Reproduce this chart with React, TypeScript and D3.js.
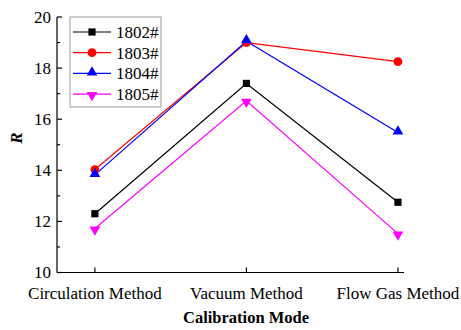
import React from 'react';
import * as d3 from 'd3';

const categories = ['Circulation Method', 'Vacuum Method', 'Flow Gas Method'];
const seriesNames = ['1802#', '1803#', '1804#', '1805#'];
const values1802 = [12.3, 17.4, 12.75];
const values1803 = [14.03, 19.0, 18.25];
const values1804 = [13.82, 19.05, 15.48];
const values1805 = [11.72, 16.72, 11.52];
const yTicks = [10, 12, 14, 16, 18, 20];
const yMinorTicks = [11, 13, 15, 17, 19];

const colors = ['#000000', '#ff0000', '#0000ff', '#ff00ff'];
const shapes = [d3.symbolSquare, d3.symbolCircle, d3.symbolTriangle, d3.symbolTriangle];
const serif = { fontFamily: "'Liberation Serif', 'Times New Roman', Times, serif" };

const App = () => {
  const width = 461;
  const height = 330;
  const left = 57;
  const right = 404;
  const top = 17;
  const bottom = 272.5;

  const allValues = [values1802, values1803, values1804, values1805];

  // categories sit at index 1..3
  const x = d3.scaleLinear().domain([0.75, 3.04]).range([left, right]);
  const y = d3.scaleLinear().domain([10, 20]).range([bottom, top]);

  const line = d3.line<number>()
    .x((d, i) => x(i + 1))
    .y(d => y(d));

  const marker = (idx: number, cx: number, cy: number, key: string) => {
    const size = idx === 0 ? 52 : idx === 1 ? 60 : 50;
    const path = d3.symbol().type(shapes[idx]).size(size)() || '';
    const rot = idx === 3 ? 180 : 0;
    const dy = idx === 2 ? -1 : idx === 3 ? 1 : 0;
    return (
      <path
        key={key}
        d={path}
        fill={colors[idx]}
        transform={`translate(${cx},${cy + dy}) rotate(${rot})`}
      />
    );
  };

  return (
    <svg width={width} height={height} style={{ position: 'absolute', left: 0, top: 0, background: '#fff' }}>
      {/* series lines */}
      {allValues.map((vals, si) => (
        <path key={'l' + si} d={line(vals) || ''} fill="none" stroke={colors[si]} strokeWidth={1.2} />
      ))}
      {allValues.map((vals, si) =>
        vals.map((v, i) => marker(si, x(i + 1), y(v), `m${si}-${i}`))
      )}

      {/* axes */}
      <line x1={left} y1={top} x2={left} y2={bottom} stroke="#000" strokeWidth={1.2} />
      <line x1={left} y1={bottom} x2={right} y2={bottom} stroke="#000" strokeWidth={1.2} />
      {yTicks.map(t => (
        <g key={'yt' + t}>
          <line x1={left} x2={left + 5} y1={y(t)} y2={y(t)} stroke="#000" strokeWidth={1.2} />
          <text x={left - 6} y={y(t)} dy="0.35em" textAnchor="end" style={serif} fontSize={17}>
            {t}
          </text>
        </g>
      ))}
      {yMinorTicks.map(t => (
        <line key={'ym' + t} x1={left} x2={left + 3} y1={y(t)} y2={y(t)} stroke="#000" strokeWidth={1.2} />
      ))}
      {categories.map((c, i) => (
        <g key={'xt' + i}>
          <line x1={x(i + 1)} x2={x(i + 1)} y1={bottom} y2={bottom - 5} stroke="#000" strokeWidth={1.2} />
          <text x={x(i + 1)} y={bottom + 21} dy="0.35em" textAnchor="middle" style={serif} fontSize={17}>
            {c}
          </text>
        </g>
      ))}

      {/* axis titles */}
      <text
        transform={`translate(16,138) rotate(-90)`}
        textAnchor="middle"
        dy="0.35em"
        style={serif}
        fontSize={17}
        fontWeight="bold"
        fontStyle="italic"
      >
        R
      </text>
      <text x={246} y={323} textAnchor="middle" style={serif} fontSize={16.5} fontWeight="bold">
        Calibration Mode
      </text>

      {/* legend */}
      <rect x={70} y={17} width={91} height={90} fill="#fff" stroke="#999" strokeWidth={1} />
      {seriesNames.map((s, i) => {
        const ly = 32 + i * 20.7;
        return (
          <g key={'lg' + i}>
            <line x1={73} x2={111} y1={ly} y2={ly} stroke={colors[i]} strokeWidth={1.2} />
            {marker(i, 92, ly, 'lm' + i)}
            <text x={116} y={ly} dy="0.35em" style={serif} fontSize={17}>
              {s}
            </text>
          </g>
        );
      })}
    </svg>
  );
};

export default App;
